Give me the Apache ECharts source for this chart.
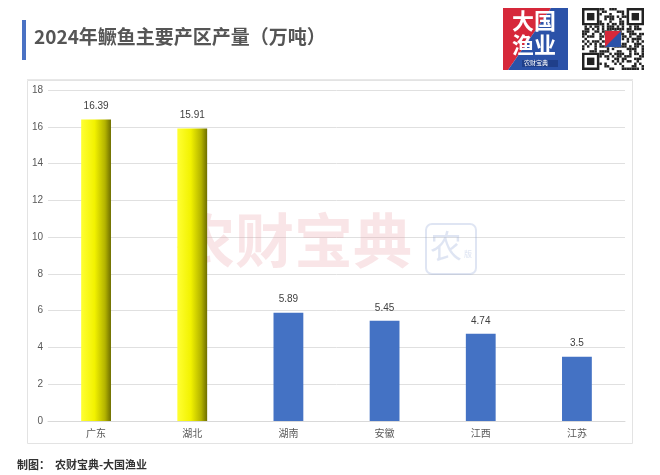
<!DOCTYPE html>
<html>
<head>
<meta charset="utf-8">
<script src="https://cdn.jsdelivr.net/npm/echarts@6/dist/echarts.min.js"></script>
<style>
  html, body { margin: 0; padding: 0; background: #fff; }
  #chart { width: 660px; height: 475px; }
</style>
</head>
<body>
<div id="chart"></div>
<script>
// 2024 production by region (10k tons)
const regions = ['广东', '湖北', '湖南', '安徽', '江西', '江苏'];
const output  = [16.39, 15.91, 5.89, 5.45, 4.74, 3.5];
const highlighted = [true, true, false, false, false, false];
const yTicks = { min: 0, max: 18, interval: 2 };

const FONT = '"Liberation Sans", "Noto Sans CJK SC", sans-serif';
const CJK  = '"Noto Sans CJK SC", sans-serif';

const yellow = new echarts.graphic.LinearGradient(0, 0, 1, 0, [
  { offset: 0, color: '#ffff33' },
  { offset: 0.45, color: '#f2f200' },
  { offset: 0.8, color: '#b3b300' },
  { offset: 1, color: '#6e6e00' },
]);

// decorative QR-like block pattern
function qrModules(n) {
  const cells = [];
  let s = 7;
  const finder = (r, c) => {
    const inF = (r0, c0) => r >= r0 && r < r0 + 7 && c >= c0 && c < c0 + 7;
    return inF(0, 0) || inF(0, n - 7) || inF(n - 7, 0);
  };
  for (let r = 0; r < n; r++) {
    for (let c = 0; c < n; c++) {
      if (finder(r, c)) continue;
      s = (s * 1103515245 + 12345) & 0x7fffffff;
      if ((s >> 16) % 2 === 0) cells.push([r, c]);
    }
  }
  return cells;
}

function qrGraphic(x0, y0, size, n) {
  const m = size / n;
  const out = [{ type: 'rect', shape: { x: x0, y: y0, width: size, height: size }, style: { fill: '#fff' } }];
  qrModules(n).forEach(([r, c]) => {
    out.push({ type: 'rect', shape: { x: x0 + c * m, y: y0 + r * m, width: m, height: m }, style: { fill: '#222' } });
  });
  [[0, 0], [0, n - 7], [n - 7, 0]].forEach(([r, c]) => {
    const fx = x0 + c * m, fy = y0 + r * m;
    out.push({ type: 'rect', shape: { x: fx + m / 2, y: fy + m / 2, width: 6 * m, height: 6 * m }, style: { fill: 'none', stroke: '#222', lineWidth: m } });
    out.push({ type: 'rect', shape: { x: fx + 2 * m, y: fy + 2 * m, width: 3 * m, height: 3 * m }, style: { fill: '#222' } });
  });
  // small logo in centre
  out.push({ type: 'rect', shape: { x: x0 + size / 2 - 8, y: y0 + size / 2 - 8, width: 16, height: 16 }, style: { fill: '#d6283a' } });
  out.push({ type: 'polygon', shape: { points: [[x0 + size / 2 + 8, y0 + size / 2 - 8], [x0 + size / 2 + 8, y0 + size / 2 + 8], [x0 + size / 2 - 8, y0 + size / 2 + 8]] }, style: { fill: '#2b52a8' } });
  return out;
}

const chart = echarts.init(document.getElementById('chart'), null, { renderer: 'canvas' });

chart.setOption({
  animation: false,
  backgroundColor: '#fff',
  grid: { left: 48, right: 35, top: 90, bottom: 54, containLabel: false },
  xAxis: {
    type: 'category',
    data: regions,
    axisLine: { show: true, lineStyle: { color: '#d9d9d9', width: 1 } },
    axisTick: { show: false },
    axisLabel: { color: '#595959', fontSize: 10, fontFamily: CJK, margin: 7 },
  },
  yAxis: {
    type: 'value',
    min: yTicks.min,
    max: yTicks.max,
    interval: yTicks.interval,
    axisLine: { show: false },
    axisTick: { show: false },
    splitLine: { lineStyle: { color: '#e0e0e0', width: 1 } },
    axisLabel: { color: '#595959', fontSize: 10, fontFamily: FONT, margin: 5 },
  },
  series: [{
    type: 'bar',
    barWidth: '31%',
    data: output.map((v, i) => ({
      value: v,
      itemStyle: { color: highlighted[i] ? yellow : '#4472c4' },
    })),
    label: {
      show: true,
      position: 'top',
      distance: 8,
      color: '#404040',
      fontSize: 10,
      fontFamily: FONT,
    },
    z: 3,
  }],
  graphic: [
    // chart frame
    { type: 'rect', z: -10, shape: { x: 27.5, y: 80.5, width: 605, height: 363 }, style: { fill: 'none', stroke: '#e3e3e3', lineWidth: 1 } },
    { type: 'line', z: -10, shape: { x1: 27, y1: 79.5, x2: 633, y2: 79.5 }, style: { stroke: '#e8e8e8', lineWidth: 1 } },
    // title
    { type: 'rect', shape: { x: 22, y: 20, width: 4, height: 40 }, style: { fill: '#4a72c4' } },
    { type: 'text', left: 34, top: 27, style: { text: '2024年鳜鱼主要产区产量（万吨）', fill: '#555', font: 'bold 19px ' + CJK } },
    // watermark
    { type: 'text', left: 176, top: 211, z: 1, style: { text: '农财宝典', fill: 'rgba(235,160,170,0.28)', font: 'bold 59px ' + CJK } },
    { type: 'rect', z: 1, shape: { x: 426, y: 224, width: 50, height: 50, r: 6 }, style: { fill: 'none', stroke: 'rgba(150,170,215,0.30)', lineWidth: 2 } },
    { type: 'text', left: 430, top: 230, z: 1, style: { text: '农', fill: 'rgba(150,170,215,0.30)', font: '32px ' + CJK } },
    { type: 'text', left: 464, top: 250, z: 1, style: { text: '版', fill: 'rgba(150,170,215,0.35)', font: '8px ' + CJK } },
    // brand logo
    { type: 'polygon', shape: { points: [[503, 8], [551, 8], [508, 70], [503, 70]] }, style: { fill: '#d6283a' } },
    { type: 'polygon', shape: { points: [[551, 8], [568, 8], [568, 70], [508, 70]] }, style: { fill: '#2b52a8' } },
    { type: 'text', left: 512, top: 10, style: { text: '大国', fill: '#fff', font: 'bold 22px ' + CJK } },
    { type: 'text', left: 512, top: 34, style: { text: '渔业', fill: '#fff', font: 'bold 22px ' + CJK } },
    { type: 'rect', shape: { x: 522, y: 60, width: 36, height: 7 }, style: { fill: '#1f3f8a' } },
    { type: 'text', left: 524, top: 60, style: { text: '农财宝典', fill: '#fff', font: '6px ' + CJK } },
    ...qrGraphic(582, 8, 62, 25),
    // footer
    { type: 'text', left: 17, top: 459, style: { text: '制图：  农财宝典-大国渔业', fill: '#333', font: 'bold 11px ' + CJK } },
  ],
});
</script>
</body>
</html>
